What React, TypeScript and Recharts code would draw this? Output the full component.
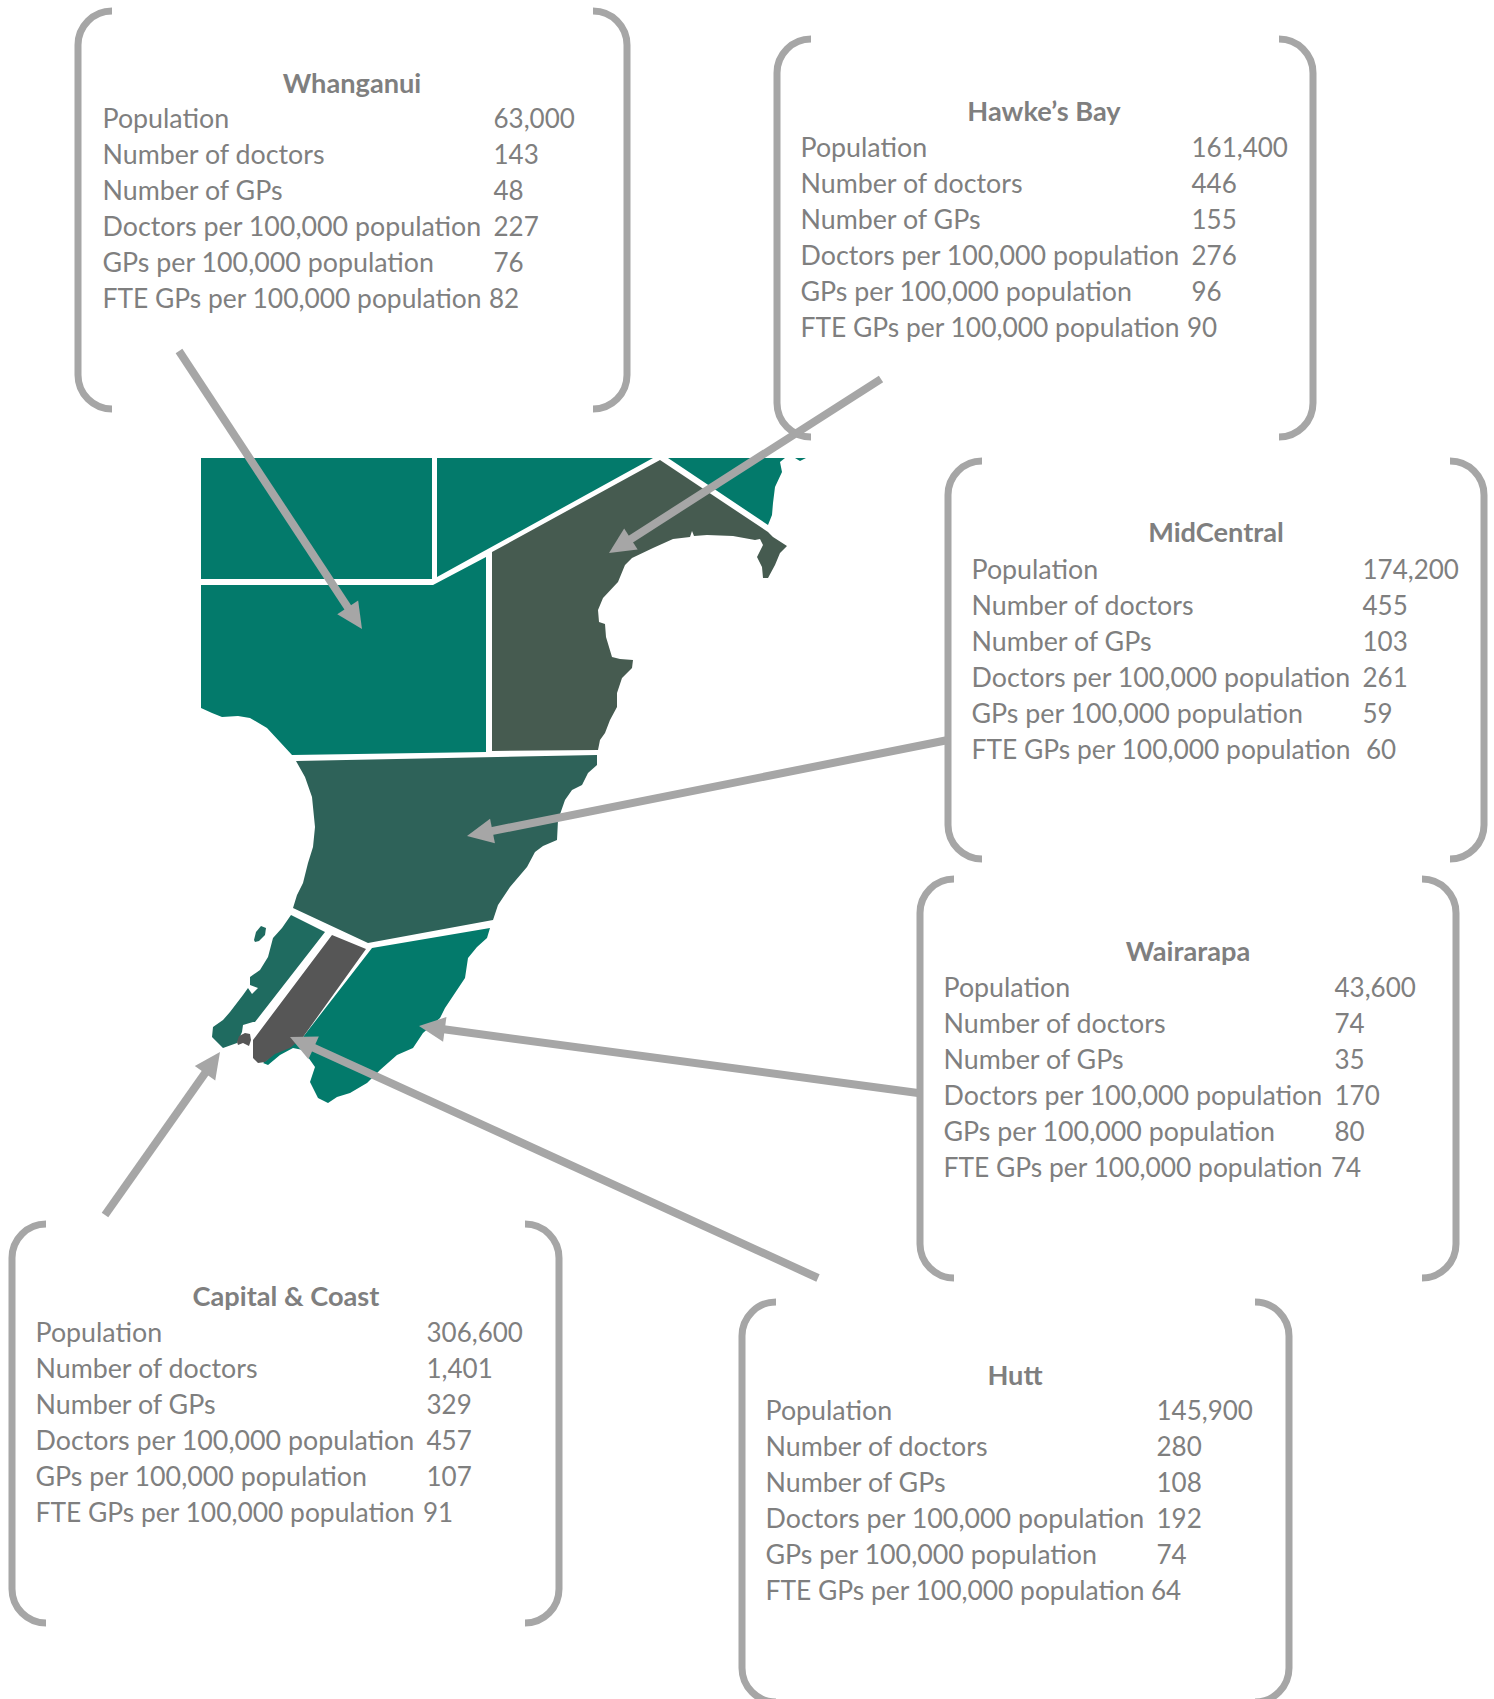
import React from 'react';
import { ScatterChart, Scatter, XAxis, YAxis } from 'recharts';

type P = { x: number; y: number };
const pts = (...a: number[][]): P[] => a.map(([x, y]) => ({ x, y }));

const W = 1494;
const H = 1699;
const TEAL = '#037a6b';
const HAWKE = '#465b50';
const MID = '#2e6259';
const CAPITAL = '#1f6b60';
const HUTT = '#565656';
const GREY = '#a6a6a6';
const TEXT = '#7f7f7f';
const FONT = 'Lato, Carlito, sans-serif';

// ---- map regions ----
const northWest = pts([201, 458], [432, 458], [432, 579], [201, 579]);
const northMid = pts([437, 458], [653, 458], [437, 577]);
const northEast = pts([668, 458], [785, 458], [780, 462], [782, 472], [775, 487], [773, 503], [772, 515], [768, 525]);
const capeTip = pts([795, 458], [806, 458], [800, 461]);
const whanganui = pts([201, 585], [433, 585], [486, 557], [486, 752], [292, 755], [280, 742], [267, 728], [250, 718], [238, 716], [222, 717], [212, 713], [201, 708]);
const hawkesBay = pts([660, 460], [768, 532], [773, 537], [787, 546], [780, 553], [775, 565], [768, 578], [763, 578], [762, 567], [757, 557], [763, 545], [760, 539], [755, 540], [733, 536], [707, 535], [694, 536], [692, 531], [690, 537], [673, 539], [653, 548], [632, 558], [625, 565], [618, 582], [603, 598], [598, 610], [599, 622], [605, 624], [606, 637], [612, 657], [620, 659], [633, 660], [632, 668], [622, 678], [617, 693], [617, 707], [610, 720], [605, 733], [600, 740], [598, 750], [492, 751], [492, 552]);
const midCentral = pts([296, 761], [597, 755], [597, 765], [588, 773], [582, 785], [572, 790], [565, 800], [558, 820], [557, 840], [543, 846], [535, 852], [527, 867], [510, 887], [498, 905], [493, 920], [368, 943], [293, 908], [297, 895], [303, 883], [308, 863], [313, 847], [315, 827], [312, 797], [305, 777]);
const wairarapa = pts([372, 948], [490, 928], [487, 938], [477, 947], [468, 958], [465, 978], [457, 990], [445, 1008], [440, 1018], [423, 1033], [413, 1048], [397, 1055], [380, 1070], [367, 1083], [350, 1093], [337, 1097], [328, 1103], [318, 1098], [310, 1082], [315, 1067], [303, 1050], [293, 1048], [280, 1055], [268, 1065], [263, 1063], [290, 1040], [303, 1037]);
const hutt = pts([332, 935], [366, 949], [303, 1037], [290, 1048], [275, 1054], [265, 1062], [258, 1063], [253, 1058], [253, 1040]);
const capital = pts([291, 915], [325, 932], [255, 1022], [253, 1022], [243, 1025], [242, 1032], [237, 1043], [223, 1048], [212, 1037], [213, 1027], [223, 1020], [230, 1012], [243, 995], [248, 988], [252, 994], [258, 988], [250, 985], [250, 977], [260, 970], [268, 957], [273, 938], [282, 928]);
const capitalHarbour = pts([237, 1042], [239, 1036], [245, 1033], [250, 1034], [251, 1040], [249, 1046], [243, 1043], [238, 1045]);
const kapiti = pts([254, 940], [256, 932], [261, 926], [266, 928], [265, 935], [259, 941], [255, 942]);

const regions: { data: P[]; fill: string }[] = [
  { data: northWest, fill: TEAL },
  { data: northMid, fill: TEAL },
  { data: northEast, fill: TEAL },
  { data: capeTip, fill: TEAL },
  { data: whanganui, fill: TEAL },
  { data: hawkesBay, fill: HAWKE },
  { data: midCentral, fill: MID },
  { data: wairarapa, fill: TEAL },
  { data: hutt, fill: HUTT },
  { data: capital, fill: CAPITAL },
  { data: capitalHarbour, fill: HUTT },
  { data: kapiti, fill: CAPITAL },
];

// ---- panel contents ----
const rowLabels = [
  'Population',
  'Number of doctors',
  'Number of GPs',
  'Doctors per 100,000 population',
  'GPs per 100,000 population',
  'FTE GPs per 100,000 population',
];
const panelNames = ['Whanganui', 'Hawke\u2019s Bay', 'MidCentral', 'Wairarapa', 'Capital & Coast', 'Hutt'];
const whanganuiValues = ['63,000', '143', '48', '227', '76', '82'];
const hawkesBayValues = ['161,400', '446', '155', '276', '96', '90'];
const midCentralValues = ['174,200', '455', '103', '261', '59', '60'];
const wairarapaValues = ['43,600', '74', '35', '170', '80', '74'];
const capitalValues = ['306,600', '1,401', '329', '457', '107', '91'];
const huttValues = ['145,900', '280', '108', '192', '74', '64'];
const panelValues = [whanganuiValues, hawkesBayValues, midCentralValues, wairarapaValues, capitalValues, huttValues];

// panel geometry: left, right, top, bottom, text x, value x, last-value x, title x, title y, first row y
const panelLayout = [
  [78, 627, 11, 409, 102.5, 493.5, 489, 352, 83, 119],
  [777, 1313, 39, 437, 800.5, 1191.5, 1187, 1044, 111, 148],
  [948, 1484, 461, 859, 971.5, 1362.5, 1366, 1216, 532, 570],
  [920, 1456, 879, 1278, 943.5, 1334.5, 1331, 1188, 951, 988],
  [12, 559, 1224, 1623, 35.5, 426.5, 423, 286, 1296, 1333],
  [742, 1289, 1302, 1702, 765.5, 1156.5, 1151, 1015, 1375, 1411],
];

// ---- arrows: tail, tip ----
const arrows: P[][] = [
  pts([179, 351], [362, 629]),
  pts([881, 379], [609, 553]),
  pts([948, 740], [467, 836]),
  pts([918, 1093], [419, 1026]),
  pts([818, 1278], [290, 1037]),
  pts([105, 1215], [220, 1052]),
];

const BR = 34;
const brackets: { data: P[]; sweep: number }[] = panelLayout.flatMap(([l, r, t, b]) => [
  { data: pts([l + BR, t], [l, t], [l, b], [l + BR, b]), sweep: 0 },
  { data: pts([r - BR, t], [r, t], [r, b], [r - BR, b]), sweep: 1 },
]);

type T = P & { text: string; kind: 'title' | 'label' | 'fte' | 'value' };
const texts: T[] = panelLayout.flatMap((g, i) => {
  const [, , , , tx, vx, lvx, cx, cy, y0] = g;
  const out: T[] = [{ x: cx, y: cy, text: panelNames[i], kind: 'title' }];
  rowLabels.forEach((label, j) => {
    const y = y0 + j * 35.9;
    out.push({ x: tx, y, text: label, kind: j === 5 ? 'fte' : 'label' });
    out.push({ x: j === 5 ? lvx : vx, y, text: panelValues[i][j], kind: 'value' });
  });
  return out;
});

const SIZES = { title: 27.2, label: 26.8, fte: 26.4, value: 26 };

const noDot = () => <g />;

const polygon = (fill: string) => (p: any) => (
  <path d={'M' + p.points.map((q: P) => `${q.x},${q.y}`).join('L') + 'Z'} fill={fill} stroke="none" />
);

const bracket = (sweep: number) => (p: any) => {
  const [a, b, c, d] = p.points as P[];
  const r = Math.abs(a.x - b.x);
  const f = sweep === 0 ? 0 : 1;
  return (
    <path
      d={`M${a.x},${a.y}A${r},${r} 0 0 ${f} ${b.x},${b.y + r}L${c.x},${c.y - r}A${r},${r} 0 0 ${f} ${d.x},${d.y}`}
      fill="none"
      stroke={GREY}
      strokeWidth={7}
    />
  );
};

const arrow = (p: any) => {
  const [a, b] = p.points as P[];
  const dx = b.x - a.x;
  const dy = b.y - a.y;
  const len = Math.hypot(dx, dy);
  const ux = dx / len;
  const uy = dy / len;
  const hl = 26;
  const hw = 12.5;
  const nx = b.x - ux * hl;
  const ny = b.y - uy * hl;
  return (
    <g>
      <line x1={a.x} y1={a.y} x2={nx + ux} y2={ny + uy} stroke={GREY} strokeWidth={8} />
      <polygon
        points={`${b.x},${b.y} ${nx - uy * hw},${ny + ux * hw} ${nx + uy * hw},${ny - ux * hw}`}
        fill={GREY}
      />
    </g>
  );
};

const textShape = (p: any) => {
  const d: T = p.payload;
  return (
    <text
      x={p.cx}
      y={p.cy}
      dy="0.35em"
      textAnchor={d.kind === 'title' ? 'middle' : 'start'}
      fontFamily={FONT}
      fontSize={SIZES[d.kind]}
      fontWeight={d.kind === 'title' ? 700 : 400}
      fill={TEXT}
    >
      {d.text}
    </text>
  );
};

export default function App() {
  return (
    <div style={{ position: 'absolute', left: 0, top: 0, width: W, height: H, overflow: 'hidden', background: '#fff' }}>
      <ScatterChart width={W} height={H} margin={{ top: 0, right: 0, bottom: 0, left: 0 }}>
        <XAxis type="number" dataKey="x" domain={[0, W]} allowDataOverflow hide />
        <YAxis type="number" dataKey="y" domain={[0, H]} allowDataOverflow reversed hide />
        {regions.map((r, i) => (
          <Scatter key={'r' + i} data={r.data} line={polygon(r.fill)} lineJointType="linear" shape={noDot} isAnimationActive={false} />
        ))}
        {brackets.map((b, i) => (
          <Scatter key={'b' + i} data={b.data} line={bracket(b.sweep)} shape={noDot} isAnimationActive={false} />
        ))}
        {arrows.map((a, i) => (
          <Scatter key={'a' + i} data={a} line={arrow} shape={noDot} isAnimationActive={false} />
        ))}
        <Scatter data={texts} shape={textShape} isAnimationActive={false} />
      </ScatterChart>
    </div>
  );
}
